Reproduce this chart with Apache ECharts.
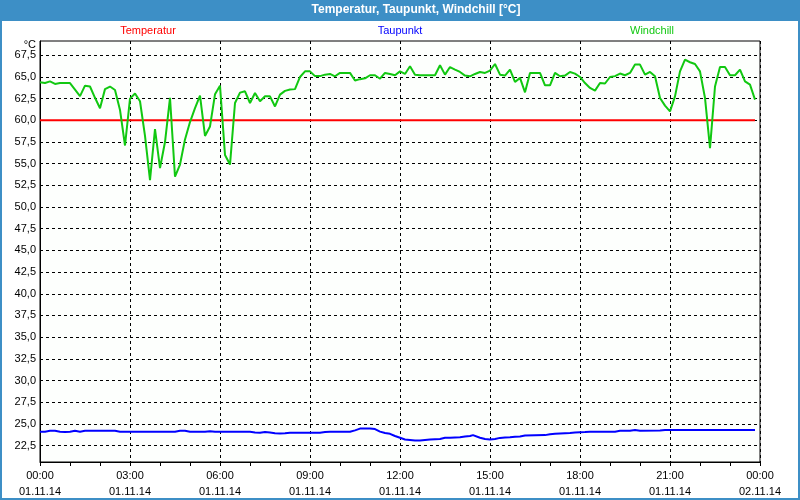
<!DOCTYPE html>
<html>
<head>
<meta charset="utf-8">
<script src="https://cdn.jsdelivr.net/npm/echarts@6/dist/echarts.min.js"></script>
<style>
html,body{margin:0;padding:0;background:#fff;}
#c{width:800px;height:500px;}
</style>
</head>
<body>
<div id="c"></div>
<script>
// ---- data (x = minutes after 01.11.14 00:00) ----
var chartTitle = 'Temperatur, Taupunkt, Windchill [°C]';
var seriesNames = ['Temperatur', 'Taupunkt', 'Windchill'];

var tempMinutes = [0, 1430];
var tempValues  = [60.0, 60.0];

var dewMinutes = [0,10,20,30,40,50,60,70,80,90,100,150,160,170,270,280,290,300,330,340,350,420,430,440,450,460,470,480,490,500,560,570,580,620,630,640,650,660,670,680,690,700,710,720,730,740,750,760,770,780,800,810,820,840,850,860,866,870,880,890,900,910,920,930,940,950,960,970,1010,1020,1030,1040,1060,1070,1090,1100,1150,1160,1180,1190,1200,1240,1250,1430];
var dewValues  = [24.08,24.1,24.2,24.2,24.1,24.05,24.1,24.2,24.1,24.2,24.2,24.2,24.1,24.08,24.08,24.2,24.2,24.08,24.08,24.15,24.08,24.08,24.0,23.97,24.05,24.0,23.92,23.9,23.92,23.97,23.97,24.05,24.08,24.08,24.25,24.45,24.47,24.47,24.4,24.1,23.95,23.85,23.6,23.4,23.2,23.15,23.08,23.08,23.15,23.19,23.25,23.39,23.39,23.45,23.54,23.6,23.7,23.6,23.4,23.25,23.19,23.25,23.38,23.43,23.45,23.5,23.55,23.66,23.7,23.8,23.85,23.9,23.95,24.0,24.05,24.08,24.1,24.2,24.2,24.3,24.2,24.22,24.3,24.3];

var chillMinutes = [0,10,20,30,40,60,80,90,100,110,120,130,140,150,160,170,180,190,200,210,220,230,240,250,260,270,280,290,300,310,320,330,340,350,360,370,380,390,400,410,420,430,440,450,460,470,480,490,500,510,520,530,540,550,560,570,580,590,600,610,620,630,640,650,660,670,680,690,700,710,720,730,740,750,760,770,780,790,800,810,820,830,840,850,860,870,880,890,900,910,920,930,940,950,960,970,980,990,1000,1010,1020,1030,1040,1050,1060,1070,1080,1090,1100,1110,1120,1130,1140,1150,1160,1170,1180,1190,1200,1210,1220,1230,1240,1250,1260,1270,1280,1290,1300,1310,1320,1330,1340,1350,1360,1370,1380,1390,1400,1410,1420,1430];
var chillValues  = [64.4,64.3,64.5,64.2,64.3,64.3,62.8,64.0,63.9,62.6,61.4,63.6,63.9,63.5,61.2,57.1,62.5,63.1,62.2,58.2,53.1,59.0,54.5,57.5,62.6,53.5,54.9,57.8,59.8,61.4,62.85,58.2,59.3,63.0,64.0,56.0,54.9,62.0,63.2,63.35,62.0,63.16,62.2,62.77,62.77,61.6,62.97,63.4,63.55,63.6,65.0,65.65,65.65,65.1,65.1,65.27,65.35,65.08,65.47,65.47,65.47,64.6,64.75,64.85,65.2,65.2,64.8,65.47,65.35,65.2,65.65,65.35,66.23,65.27,65.2,65.2,65.2,65.2,66.35,65.27,66.15,65.85,65.58,65.16,65.08,65.35,65.58,65.47,65.73,66.5,65.27,65.16,65.85,64.43,64.9,63.23,65.47,65.47,65.47,64.04,64.04,65.47,65.08,65.16,65.58,65.39,65.0,64.3,63.74,63.43,64.3,64.25,65.0,65.1,65.4,65.2,65.47,66.43,66.43,65.27,65.58,65.08,62.58,61.7,61.04,62.77,65.65,67.0,66.7,66.5,65.65,62.58,56.8,63.9,66.15,66.15,65.2,65.2,65.85,64.5,64.12,62.39];

var xTickMinutes = [0,180,360,540,720,900,1080,1260,1440];
var xTimeLabels  = ['00:00','03:00','06:00','09:00','12:00','15:00','18:00','21:00','00:00'];
var xDateLabels  = ['01.11.14','01.11.14','01.11.14','01.11.14','01.11.14','01.11.14','01.11.14','01.11.14','02.11.14'];
var yTickValues  = [22.5,25,27.5,30,32.5,35,37.5,40,42.5,45,47.5,50,52.5,55,57.5,60,62.5,65,67.5];
var yUnit = '°C';

function pairs(xs, ys){ return xs.map(function(x,i){ return [x, ys[i]]; }); }

var FONT = '"Liberation Sans", Arial, sans-serif';
var chart = echarts.init(document.getElementById('c'), null, {renderer:'canvas'});
chart.setOption({
  animation: false,
  backgroundColor: '#ffffff',
  grid: {left: 40, right: 40, top: 41, bottom: 38, show: true, borderColor: '#000', borderWidth: 1, backgroundColor: '#fdfffd'},
  xAxis: {
    type: 'value', min: 0, max: 1440, interval: 180,
    axisLine: {show: true, lineStyle: {color: '#000', width: 1}},
    axisTick: {show: true, length: 4, lineStyle: {color: '#000'}},
    minorTick: {show: true, splitNumber: 3, length: 4, lineStyle: {color: '#000'}},
    splitLine: {show: true, lineStyle: {color: '#000', type: [3,3], width: 1}},
    axisLabel: {
      margin: 6, color: '#000', fontFamily: FONT, fontSize: 11, lineHeight: 16,
      formatter: function(v){ var i = xTickMinutes.indexOf(v); return i < 0 ? '' : xTimeLabels[i] + '\n' + xDateLabels[i]; }
    }
  },
  yAxis: {
    type: 'value', min: 20.6, max: 69.15,
    axisLine: {show: true, lineStyle: {color: '#000', width: 1}},
    axisTick: {show: false, customValues: yTickValues},
    splitLine: {show: true, lineStyle: {color: '#000', type: [3,3], width: 1}},
    axisLabel: {
      customValues: yTickValues, margin: 4, color: '#000', fontFamily: FONT, fontSize: 11,
      formatter: function(v){ return v.toFixed(1).replace('.', ','); }
    }
  },
  series: [
    {name: seriesNames[0], type: 'line', data: pairs(tempMinutes, tempValues), symbol: 'none', lineStyle: {color: '#ff0000', width: 2}, z: 3},
    {name: seriesNames[1], type: 'line', data: pairs(dewMinutes, dewValues), symbol: 'none', lineStyle: {color: '#0000ff', width: 2}, z: 3},
    {name: seriesNames[2], type: 'line', data: pairs(chillMinutes, chillValues), symbol: 'none', lineStyle: {color: '#11c811', width: 2}, z: 4}
  ],
  graphic: [
    {type: 'rect', shape: {x: 0, y: 0, width: 800, height: 21}, style: {fill: '#3d8fc6'}, silent: true, z: 10},
    {type: 'rect', shape: {x: 1, y: 1, width: 798, height: 498}, style: {fill: 'none', stroke: '#3d8fc6', lineWidth: 2}, silent: true, z: 10},
    {type: 'text', x: 416, y: 10, style: {text: chartTitle, fill: '#fff', font: 'bold 12px ' + FONT, textAlign: 'center', textVerticalAlign: 'middle'}, z: 11},
    {type: 'text', x: 148, y: 31, style: {text: seriesNames[0], fill: '#ff0000', font: '11px ' + FONT, textAlign: 'center', textVerticalAlign: 'middle'}, z: 11},
    {type: 'text', x: 400, y: 31, style: {text: seriesNames[1], fill: '#0000ff', font: '11px ' + FONT, textAlign: 'center', textVerticalAlign: 'middle'}, z: 11},
    {type: 'text', x: 652, y: 31, style: {text: seriesNames[2], fill: '#11c811', font: '11px ' + FONT, textAlign: 'center', textVerticalAlign: 'middle'}, z: 11},
    {type: 'text', x: 36, y: 45, style: {text: yUnit, fill: '#000', font: '11px ' + FONT, textAlign: 'right', textVerticalAlign: 'middle'}, z: 11}
  ]
});
</script>
</body>
</html>
